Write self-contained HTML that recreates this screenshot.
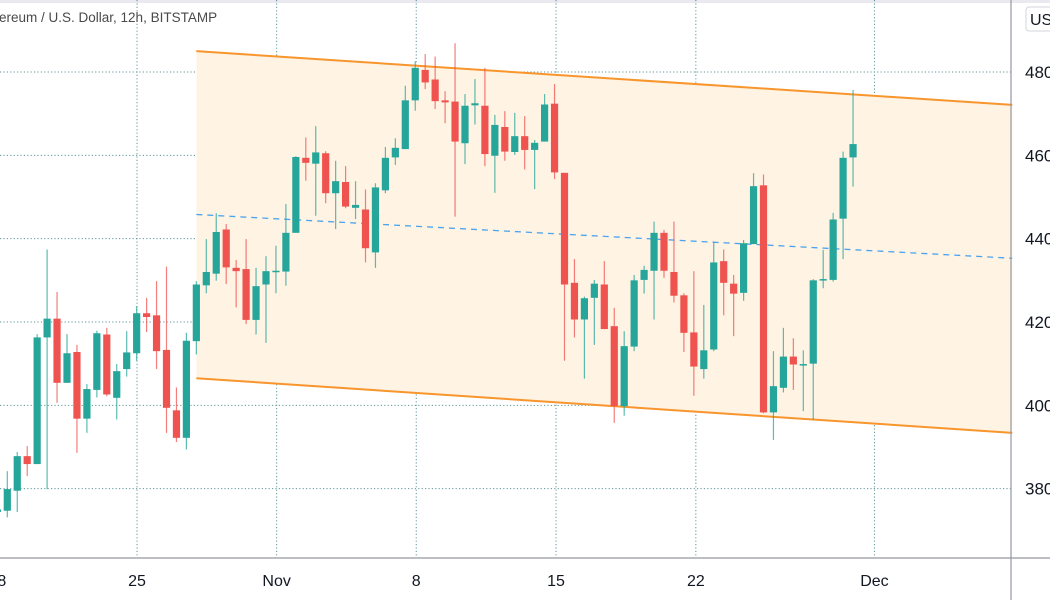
<!DOCTYPE html>
<html><head><meta charset="utf-8"><style>
html,body{margin:0;padding:0;background:#fff;width:1050px;height:600px;overflow:hidden}
svg{display:block;font-family:"Liberation Sans",sans-serif}
</style></head><body>
<svg id="chart" width="1050" height="600" viewBox="0 0 1050 600" xmlns="http://www.w3.org/2000/svg">
<rect x="0" y="0" width="1050" height="3" fill="#e9e9ef"/>
<g id="grid"></g>
<g id="channel"></g>
<g id="candles"></g>
<g id="axes"></g>
<text x="-1" y="22" font-size="13.5" fill="#4a4a4a">ereum / U.S. Dollar, 12h, BITSTAMP</text>
<g>
<rect x="1026" y="7" width="40" height="24" rx="3" fill="#fff" stroke="#d1d4dc"/>
<text x="1030" y="25" font-size="16" fill="#131722">USD</text>
</g>
</svg>
<script>
// Data (prices), candle index from first visible candle
const opens  = [374.4,374.7,379.5,387.8,385.9,416.3,420.8,405.4,412.8,396.8,403.7,417.0,401.8,408.7,412.5,422.1,421.6,413.3,398.8,392.2,415.4,428.8,431.6,442.2,433.0,432.7,420.5,429.0,432.1,432.1,441.4,459.4,458.0,460.5,450.9,453.6,447.4,447.0,436.7,451.6,459.5,461.5,473.2,480.5,478.2,473.2,472.9,462.9,472.0,471.9,459.9,466.8,460.8,464.6,461.3,463.3,472.4,455.8,429.4,420.6,425.8,429.0,419.0,399.8,414.1,430.1,432.3,441.4,432.0,426.4,417.5,408.7,413.4,434.6,429.2,427.0,438.7,452.8,398.3,404.2,411.7,409.7,410.0,430.1,430.1,444.8,459.5];
const highs  = [375.2,384.2,388.8,390.2,417.1,437.4,427.2,417.1,414.5,405.1,417.9,418.6,409.9,417.8,423.8,425.8,429.8,433.3,404.3,417.4,429.8,439.9,446.1,443.5,434.9,439.9,433.0,435.8,438.3,448.3,459.8,464.3,467.0,461.0,458.7,457.4,453.8,451.8,453.3,462.0,464.1,476.7,482.6,484.3,483.7,475.4,486.9,474.7,478.3,481.0,469.7,470.6,470.2,469.4,463.7,474.7,477.1,455.8,435.1,426.1,430.1,434.6,423.4,417.8,431.3,433.5,444.1,442.1,444.1,426.9,432.2,424.1,439.1,437.4,431.3,439.7,455.7,455.4,413.0,418.6,416.1,413.2,430.3,437.3,446.2,460.9,475.7];
const lows   = [374.2,373.1,374.4,383.0,385.9,379.9,400.6,405.4,388.6,393.4,401.9,402.2,396.6,406.9,410.7,417.6,408.7,393.4,391.2,389.4,412.2,426.9,429.9,429.1,423.5,419.5,417.0,415.0,426.9,428.7,441.4,453.9,445.5,448.5,442.3,447.3,444.7,434.3,433.0,450.9,457.7,461.5,470.7,475.9,471.1,467.7,445.3,457.9,467.4,457.4,451.0,458.7,460.1,456.6,451.9,463.3,454.3,410.7,416.3,406.4,414.5,418.3,395.8,397.5,413.0,426.8,420.6,430.6,424.7,412.8,402.3,406.4,413.0,421.6,416.6,425.1,438.7,398.1,391.7,403.1,403.7,398.6,396.5,428.1,429.7,435.1,452.5];
const closes = [375.0,379.9,387.8,385.9,416.3,420.8,405.4,412.5,396.8,403.9,417.3,402.6,408.2,412.7,422.1,421.2,413.0,399.4,392.2,415.5,429.0,432.0,441.6,433.1,432.2,420.5,428.6,432.2,432.3,441.4,459.6,458.2,460.7,450.9,453.8,447.7,448.1,437.7,452.3,459.4,461.8,473.2,481.0,477.5,473.0,472.7,463.3,471.9,472.5,460.3,467.3,460.9,464.6,461.3,463.0,472.2,455.9,429.0,420.6,425.7,429.2,418.3,399.8,414.2,430.0,432.5,441.4,432.3,426.3,417.4,409.3,413.2,434.3,429.4,426.8,438.9,452.6,398.3,404.6,411.7,409.8,409.9,430.0,430.3,444.6,459.4,462.7];
const firstIndex = -1;
const priceTicks = [380,400,420,440,460,480];
const timeTickLabels = ["18","25","Nov","8","15","22","Dec"];
const timeTickIdx = [-1.0,13.04,27.07,41.1,55.15,69.2,87.15];
// Channel drawing: [startIdx, startPrice, endIdx, endPrice]
const channelUpper = [19, 485.0, 101.0, 472.1];
const channelLower = [19, 406.5, 101.0, 393.4];
const channelMid   = [19, 445.8, 101.0, 435.3];

const X0=7.3, DX=9.95, PLOT_R=1011, PLOT_B=558;
function xAt(i){return X0+DX*i;}
function yAt(p){return 72+(480-p)*(83.33/20);}
const NS="http://www.w3.org/2000/svg";
function mk(tag,attrs,parent){const e=document.createElementNS(NS,tag);for(const k in attrs)e.setAttribute(k,attrs[k]);parent.appendChild(e);return e;}

const grid=document.getElementById('grid');
priceTicks.forEach(p=>{
  const l=mk('line',{x1:0,x2:PLOT_R,y1:yAt(p),y2:yAt(p),stroke:'#5f9598','stroke-width':1,'stroke-dasharray':'1.2 2.2'},grid);
  
  
});
timeTickIdx.forEach(i=>{
  const l=mk('line',{x1:xAt(i),x2:xAt(i),y1:0,y2:PLOT_B,stroke:'#5f9598','stroke-width':1,'stroke-dasharray':'1.2 2.2'},grid);
  
  
});

const ch=document.getElementById('channel');
const fill=mk('polygon',{points:`${xAt(channelUpper[0])},${yAt(channelUpper[1])} ${xAt(channelUpper[2])},${yAt(channelUpper[3])} ${xAt(channelLower[2])},${yAt(channelLower[3])} ${xAt(channelLower[0])},${yAt(channelLower[1])}`,fill:'#fff3e4'},ch);


[[channelUpper,'channel-upper-line'],[channelLower,'channel-lower-line']].forEach(([c,n])=>{
  const l=mk('line',{x1:xAt(c[0]),y1:yAt(c[1]),x2:xAt(c[2]),y2:yAt(c[3]),stroke:'#f8952c','stroke-width':2},ch);
  
  
});
const mid=mk('line',{x1:xAt(channelMid[0]),y1:yAt(channelMid[1]),x2:xAt(channelMid[2]),y2:yAt(channelMid[3]),stroke:'#4aa3ef','stroke-width':1.3,'stroke-dasharray':'6 5'},ch);



const cg=document.getElementById('candles');
for(let k=0;k<opens.length;k++){
  const i=firstIndex+k, x=xAt(i);
  const up=closes[k]>=opens[k];
  const col=up?'#26a69a':'#ef5350';
  const g=mk('g',{},cg);
  
  
  mk('line',{x1:x,x2:x,y1:yAt(highs[k]),y2:yAt(lows[k]),stroke:col,'stroke-width':1.2,'stroke-opacity':0.75},g);
  const top=yAt(Math.max(opens[k],closes[k])), bot=yAt(Math.min(opens[k],closes[k]));
  mk('rect',{x:x-3.6,y:top,width:7.2,height:Math.max(1.5,bot-top),fill:col},g);
}

const ax=document.getElementById('axes');
const bl=mk('line',{x1:0,x2:1050,y1:PLOT_B,y2:PLOT_B,stroke:'#9598a1','stroke-width':1.2},ax);


const rl=mk('line',{x1:PLOT_R,x2:PLOT_R,y1:0,y2:600,stroke:'#9598a1','stroke-width':1.2},ax);


priceTicks.forEach(p=>{
  const t=mk('text',{x:1025,y:yAt(p)+6,'font-size':17,fill:'#131722'},ax);
  t.textContent=String(p);
  
  
});
timeTickLabels.forEach((s,j)=>{
  const t=mk('text',{x:xAt(timeTickIdx[j]),y:586,'font-size':16,fill:'#131722','text-anchor':'middle'},ax);
  t.textContent=s;
  
  
});
</script>
</body></html>
